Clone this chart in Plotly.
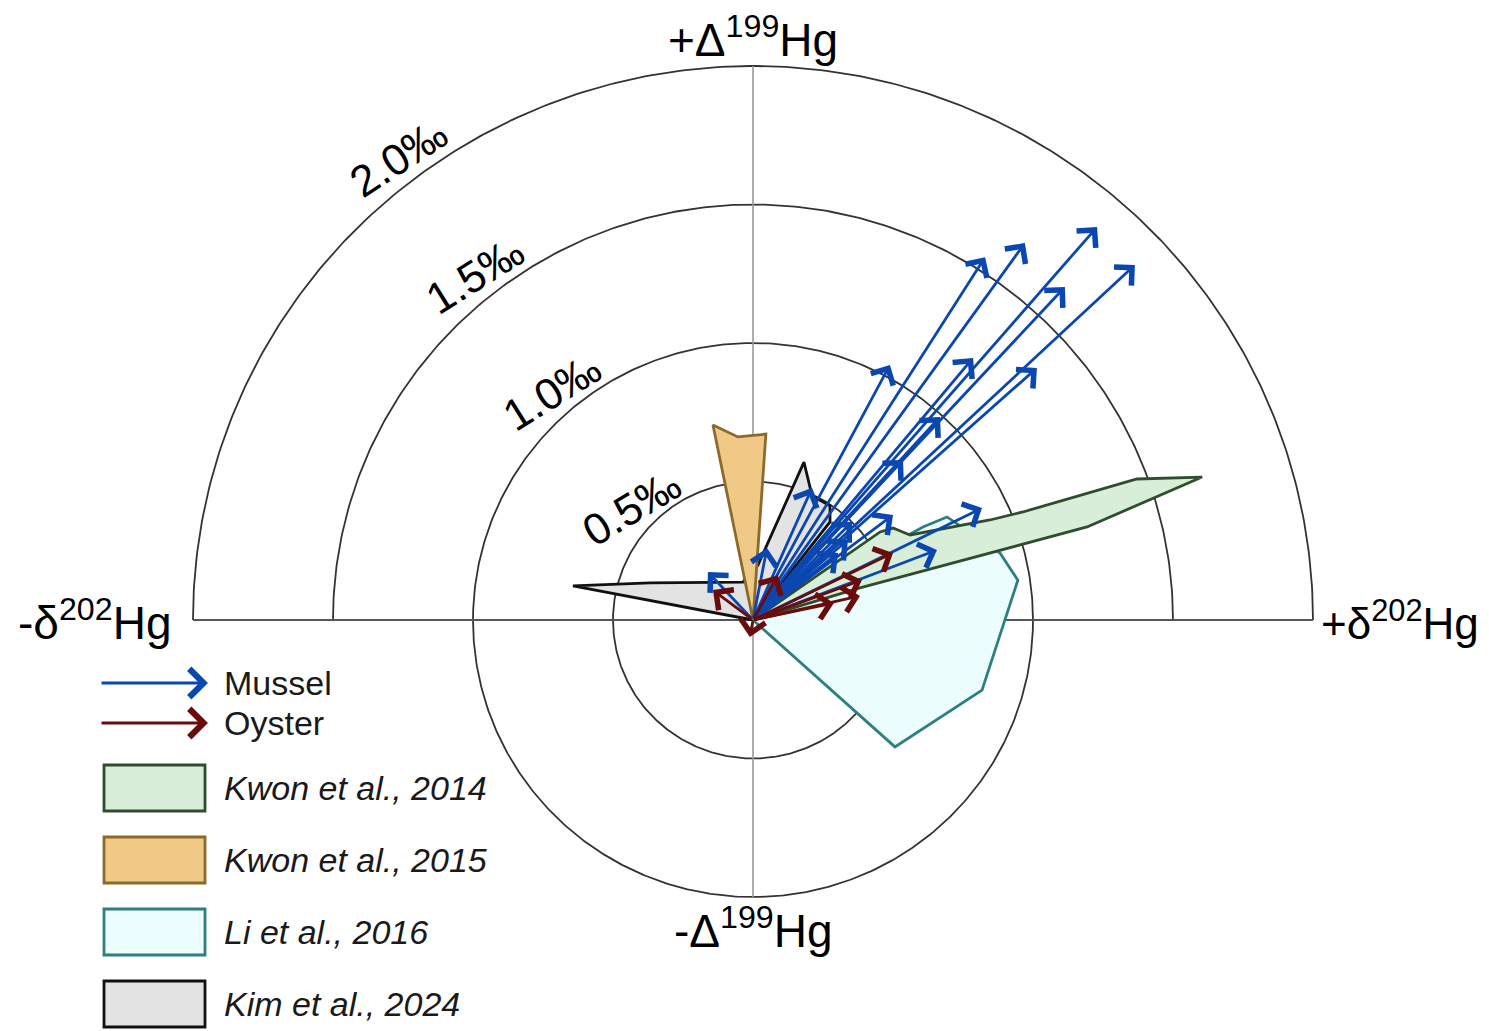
import numpy as np
import plotly.graph_objects as go

# ---------------- data (‰) ----------------
ring_values = [0.5, 1.0, 1.5, 2.0]
ring_labels = ["0.5‰", "1.0‰", "1.5‰", "2.0‰"]
lower_ring_values = [0.5, 1.0]

mussel_d202 = [0.829, 0.971, 1.229, 1.364, 1.114, 0.489, 0.786, 1.014, 0.668, 0.536,
               0.211, 0.500, 0.818, 0.657, -0.161, 0.050, 0.354, 0.339, 0.304]
mussel_D199 = [1.310, 1.361, 1.419, 1.282, 1.202, 0.921, 0.946, 0.910, 0.733, 0.578,
               0.477, 0.379, 0.404, 0.253, 0.173, 0.260, 0.354, 0.289, 0.242]

oyster_d202 = [-0.143, -0.011, 0.089, 0.500, 0.389, 0.382, 0.289]
oyster_D199 = [0.108, -0.061, 0.162, 0.242, 0.144, 0.087, 0.061]

li2016_d202 = [0.0, 0.607, 0.693, 0.882, 0.946, 0.818, 0.507, 0.0]
li2016_D199 = [0.0, 0.336, 0.372, 0.242, 0.144, -0.253, -0.458, 0.0]

kwon2014_d202 = [0.0, 0.454, 0.500, 0.561, 0.846, 0.964, 1.371, 1.604, 1.193, 0.382, 0.0]
kwon2014_D199 = [0.0, 0.318, 0.332, 0.307, 0.361, 0.390, 0.509, 0.516, 0.336, 0.116, 0.0]

kim2024_d202 = [0.0, -0.643, -0.368, -0.036, 0.018, 0.182, 0.211, 0.275, 0.275, 0.0]
kim2024_D199 = [0.0, 0.123, 0.134, 0.137, 0.199, 0.570, 0.448, 0.412, 0.354, 0.0]

kwon2015_d202 = [0.0, -0.143, -0.054, 0.046, 0.0]
kwon2015_D199 = [0.0, 0.704, 0.661, 0.671, 0.0]

arrow_names = ["Mussel", "Oyster"]
study_names = ["Kwon et al., 2014", "Kwon et al., 2015", "Li et al., 2016", "Kim et al., 2024"]

axis_labels = {
    "top": "+Δ<sup>199</sup>Hg",
    "bottom": "-Δ<sup>199</sup>Hg",
    "left": "-δ<sup>202</sup>Hg",
    "right": "+δ<sup>202</sup>Hg",
}

# ---------------- style ----------------
W, H = 1481, 1023          # figure size (page has 8px body margin)
CX, CY = 745, 612          # pixel position of origin inside the figure
SX, SY = 280.0, 277.0      # pixels per ‰
FONT = "Liberation Sans, Arial, sans-serif"
BLUE = "#0b47b1"
RED = "#6b0c0c"
study_fill = ["#d8eed8", "#f0c987", "#ebfdfd", "#e3e3e3"]
study_line = ["#2e4d2e", "#8b6a2b", "#2f7f80", "#111111"]

fig = go.Figure()

# grid rings
for r in ring_values:
    t = np.linspace(0, np.pi, 300)
    fig.add_trace(go.Scatter(x=r * np.cos(t), y=r * np.sin(t), mode="lines",
                             line=dict(color="#333333", width=1.8), hoverinfo="skip",
                             showlegend=False))
for r in lower_ring_values:
    t = np.linspace(np.pi, 2 * np.pi, 300)
    fig.add_trace(go.Scatter(x=r * np.cos(t), y=r * np.sin(t), mode="lines",
                             line=dict(color="#333333", width=1.8), hoverinfo="skip",
                             showlegend=False))
# axes lines
fig.add_trace(go.Scatter(x=[0, 0], y=[-max(lower_ring_values), max(ring_values)], mode="lines",
                         line=dict(color="#9a9a9a", width=1.6), hoverinfo="skip", showlegend=False))
fig.add_trace(go.Scatter(x=[-max(ring_values), max(ring_values)], y=[0, 0], mode="lines",
                         line=dict(color="#555555", width=1.8), hoverinfo="skip", showlegend=False))

# polygons (draw order: Li, Kwon2014, Kim, Kwon2015)
polys = [
    (li2016_d202, li2016_D199, 2),
    (kwon2014_d202, kwon2014_D199, 0),
    (kim2024_d202, kim2024_D199, 3),
    (kwon2015_d202, kwon2015_D199, 1),
]
for xs, ys, k in polys:
    fig.add_trace(go.Scatter(x=xs, y=ys, mode="lines", fill="toself",
                             fillcolor=study_fill[k],
                             line=dict(color=study_line[k], width=2.8),
                             name=study_names[k], showlegend=False))

annotations = []
# arrows
for xs, ys, col in [(mussel_d202, mussel_D199, BLUE), (oyster_d202, oyster_D199, RED)]:
    for x, y in zip(xs, ys):
        annotations.append(dict(x=x, y=y, ax=0, ay=0, xref="x", yref="y", axref="x", ayref="y",
                                text="", showarrow=True, arrowhead=4, arrowsize=1.75,
                                arrowwidth=2.8, arrowcolor=col, standoff=0))

# ring labels
label_angles = [137.0, 131.0, 128.5, 127.2]
label_rot = [-31, -32, -32, -33]
for r, lab, a, rot in zip(ring_values, ring_labels, label_angles, label_rot):
    rr = r + 0.095
    annotations.append(dict(x=rr * np.cos(np.radians(a)), y=rr * np.sin(np.radians(a)),
                            xref="x", yref="y", text=lab, showarrow=False, textangle=rot,
                            font=dict(family=FONT, size=44, color="black")))

# axis labels
ax_font = dict(family=FONT, size=46, color="black")
side_font = dict(family=FONT, size=44, color="black")
annotations += [
    dict(x=0, y=2.0, xref="x", yref="y", text=axis_labels["top"], showarrow=False,
         yanchor="bottom", yshift=-2, font=ax_font),
    dict(x=0, y=-1.0, xref="x", yref="y", text=axis_labels["bottom"], showarrow=False,
         yanchor="top", yshift=0, font=ax_font),
    dict(x=-2.0, y=0, xref="x", yref="y", text=axis_labels["left"], showarrow=False,
         xanchor="right", xshift=-20, yanchor="middle", font=ax_font),
    dict(x=2.0, y=0, xref="x", yref="y", text=axis_labels["right"], showarrow=False,
         xanchor="left", xshift=6, yanchor="middle", font=side_font),
]

# legend (drawn manually), positions in figure pixels
leg_font = dict(family=FONT, size=34, color="#1a1a1a")
for i, (nm, col) in enumerate(zip(arrow_names, [BLUE, RED])):
    py = 675 + 40 * i
    annotations.append(dict(x=200 / W, y=1 - py / H, xref="paper", yref="paper",
                            ax=-108, ay=0, axref="pixel", ayref="pixel", text="",
                            showarrow=True, arrowhead=4, arrowsize=1.9, arrowwidth=2.9,
                            arrowcolor=col, standoff=0))
    annotations.append(dict(x=214 / W, y=1 - py / H, xref="paper", yref="paper", text=nm,
                            showarrow=False, xanchor="left", yanchor="middle", font=leg_font))

shapes = []
box_y = [780, 852, 924, 996]
for k, cy in zip(range(4), box_y):
    shapes.append(dict(type="rect", xref="paper", yref="paper",
                       x0=96 / W, x1=197 / W, y0=1 - (cy - 23) / H, y1=1 - (cy + 23) / H,
                       fillcolor=study_fill[k], line=dict(color=study_line[k], width=2.8)))
    annotations.append(dict(x=214 / W, y=1 - cy / H, xref="paper", yref="paper",
                            text="<i>" + study_names[k] + "</i>", showarrow=False,
                            xanchor="left", yanchor="middle", font=leg_font))

fig.update_layout(
    width=W, height=H, margin=dict(l=0, r=0, t=0, b=0),
    paper_bgcolor="white", plot_bgcolor="white",
    xaxis=dict(range=[-CX / SX, (W - CX) / SX], visible=False, fixedrange=True),
    yaxis=dict(range=[(CY - H) / SY, CY / SY], visible=False, fixedrange=True),
    showlegend=False, annotations=annotations, shapes=shapes,
)

fig.write_html("out.html")
